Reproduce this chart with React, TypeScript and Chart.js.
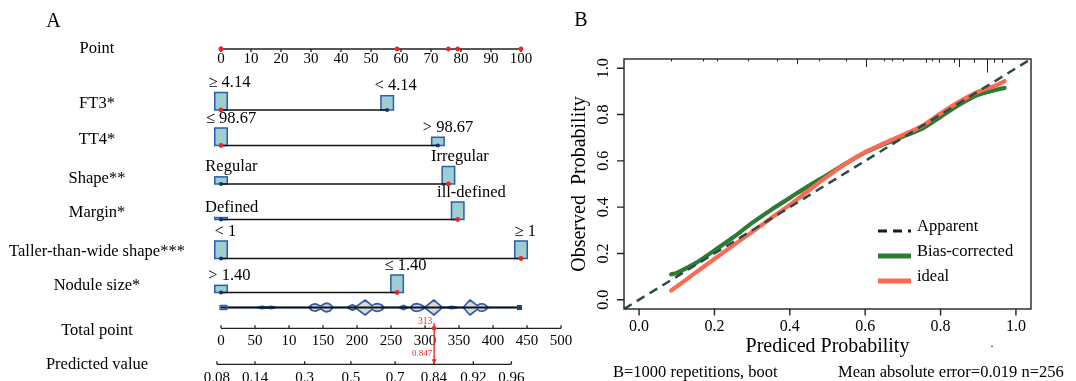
import React, { useEffect, useRef } from "react";
import { Chart, registerables } from "chart.js";

Chart.register(...registerables);

const SERIF = '"Liberation Serif", "Times New Roman", serif';

// ---------------- Panel A (nomogram) data ----------------
const POINT_TICKS = [0, 10, 20, 30, 40, 50, 60, 70, 80, 90, 100];

const PREDICTOR_NAMES = ["FT3*", "TT4*", "Shape**", "Margin*", "Taller-than-wide shape***", "Nodule size*"];

const FT3_LEVELS = ["≥ 4.14", "< 4.14"];
const FT3_POINTS = [0, 55.4];
const FT3_SHARE = [0.55, 0.45];

const TT4_LEVELS = ["≤ 98.67", "> 98.67"];
const TT4_POINTS = [0, 72.3];
const TT4_SHARE = [0.68, 0.32];

const SHAPE_LEVELS = ["Regular", "Irregular"];
const SHAPE_POINTS = [0, 75.8];
const SHAPE_SHARE = [0.29, 0.71];

const MARGIN_LEVELS = ["Defined", "ill-defined"];
const MARGIN_POINTS = [0, 78.9];
const MARGIN_SHARE = [0.1, 0.9];

const TALLER_LEVELS = ["< 1", "≥ 1"];
const TALLER_POINTS = [0, 100];
const TALLER_SHARE = [0.5, 0.5];

const SIZE_LEVELS = ["> 1.40", "≤ 1.40"];
const SIZE_POINTS = [0, 58.7];
const SIZE_SHARE = [0.29, 0.71];

// level of the highlighted patient for each predictor
const SUBJECT_LEVEL = [0, 0, 1, 1, 1, 1];

const TOTAL_TICKS = [0, 50, 100, 150, 200, 250, 300, 350, 400, 450, 500];
const TOTAL_TICK_LABELS = ["0", "50", "10", "150", "200", "250", "300", "350", "400", "450", "500"];

const PRED_TICK_LABELS = ["0.08", "0.14", "0.3", "0.5", "0.7", "0.84", "0.92", "0.96"];
const PRED_TICK_TOTALS = [-6, 50, 123, 191, 256, 313, 371, 427];
const SUBJECT_PRED = "0.847";

// distribution of total points (violin)
const VIOLIN_TOTALS = [0, 52, 60, 67, 74, 82, 129, 134, 139, 144, 147, 151, 155, 160, 165, 185, 193, 199, 212, 222, 226, 230, 235, 240, 262, 268, 275, 278, 283, 288, 293, 300, 313, 325, 331, 339, 350, 356, 366, 377, 380, 384, 388, 393, 441];
const VIOLIN_DENSITY = [0, 0, 0.15, 0.06, 0.15, 0, 0, 0.4, 0.48, 0.3, 0.2, 0.45, 0.58, 0.45, 0, 0, 0.35, 0.15, 1, 0.25, 0.45, 0.52, 0.4, 0, 0, 0.28, 0, 0, 0.42, 0.52, 0.4, 0.06, 1, 0.06, 0, 0.15, 0, 0, 1, 0.25, 0.45, 0.5, 0.38, 0, 0];

// ---------------- Panel B (calibration) data ----------------
const CAL_TICKS = [0, 0.2, 0.4, 0.6, 0.8, 1.0];
const APPARENT_X = [-0.04, 1.04];
const APPARENT_Y = [-0.04, 1.04];
const CURVE_X = [0.085, 0.1, 0.15, 0.2, 0.25, 0.3, 0.35, 0.4, 0.45, 0.5, 0.55, 0.6, 0.65, 0.7, 0.75, 0.8, 0.85, 0.9, 0.95, 0.97];
const BIAS_Y = [0.11, 0.116, 0.158, 0.213, 0.27, 0.332, 0.388, 0.44, 0.492, 0.54, 0.59, 0.637, 0.672, 0.705, 0.738, 0.79, 0.843, 0.885, 0.908, 0.915];
const IDEAL_Y = [0.04, 0.057, 0.117, 0.176, 0.235, 0.293, 0.352, 0.41, 0.472, 0.533, 0.59, 0.638, 0.676, 0.712, 0.75, 0.805, 0.856, 0.899, 0.928, 0.944];
const RUG_P = [0.084, 0.169, 0.206, 0.29, 0.365, 0.42, 0.478, 0.55, 0.603, 0.651, 0.672, 0.7, 0.762, 0.778, 0.797, 0.836, 0.85, 0.889, 0.924, 0.942, 0.963];
const RUG_N = [1, 1, 1, 1, 1, 3, 1, 1, 5, 1, 1, 1, 2, 1, 2, 2, 5, 2, 9, 2, 2];
const LEGEND_LABELS = ["Apparent", "Bias-corrected", "ideal"];
const FOOTER_LEFT = "B=1000 repetitions, boot";
const FOOTER_RIGHT = "Mean absolute error=0.019 n=256";

// ---------------- derived ----------------
const PREDICTOR_POINTS = [FT3_POINTS, TT4_POINTS, SHAPE_POINTS, MARGIN_POINTS, TALLER_POINTS, SIZE_POINTS];
const PREDICTOR_LEVELS = [FT3_LEVELS, TT4_LEVELS, SHAPE_LEVELS, MARGIN_LEVELS, TALLER_LEVELS, SIZE_LEVELS];
const PREDICTOR_SHARE = [FT3_SHARE, TT4_SHARE, SHAPE_SHARE, MARGIN_SHARE, TALLER_SHARE, SIZE_SHARE];
const TOTAL_AT_100 = PREDICTOR_POINTS.reduce((s, p) => s + Math.max(...p), 0);
const totalToPoints = (t: number) => (t * 100) / TOTAL_AT_100;
const SUBJECT_TOTAL = PREDICTOR_POINTS.reduce((s, p, i) => s + p[SUBJECT_LEVEL[i]], 0);

// ---------------- layout (pixels / scale units) ----------------
const POINT_AXIS_Y = 49;
const ROW_LINE_Y = [110, 145.5, 184, 219.5, 258.5, 292.5];
const ROW_NAME_Y = [104, 139.5, 178.5, 213, 252, 286];
const VIOLIN_Y = 307.5;
const TOTAL_AXIS_Y = 328.3;
const PRED_AXIS_Y = 364.3;
const NAME_X = 97;
const BOX_W = 12.5;
const BOX_H = 17.5;
const VIOLIN_H = 7.5;

function txt(ctx: CanvasRenderingContext2D, s: string, x: number, y: number, size: number, align: CanvasTextAlign = "center", baseline: CanvasTextBaseline = "middle", color = "#000", rot = 0) {
  ctx.save();
  ctx.font = `${size}px ${SERIF}`;
  ctx.fillStyle = color;
  ctx.textAlign = align;
  ctx.textBaseline = baseline;
  ctx.translate(x, y);
  if (rot) ctx.rotate(rot);
  ctx.fillText(s, 0, 0);
  ctx.restore();
}

const nomogramPlugin = {
  id: "nomogram",
  beforeDatasetsDraw(chart: any) {
    const ctx: CanvasRenderingContext2D = chart.ctx;
    const xs = chart.scales.x;
    const ys = chart.scales.y;
    const px = (p: number) => xs.getPixelForValue(p);
    const py = (v: number) => ys.getPixelForValue(v);
    ctx.save();
    txt(ctx, "A", 53.5, 21.5, 20);

    // row names
    txt(ctx, "Point", NAME_X, py(POINT_AXIS_Y), 16.5);
    PREDICTOR_NAMES.forEach((n, i) => txt(ctx, n, NAME_X, py(ROW_NAME_Y[i]), 16.5));
    txt(ctx, "Total point", NAME_X, py(331), 16.5);
    txt(ctx, "Predicted value", NAME_X, py(365), 16.5);

    ctx.strokeStyle = "#222";
    ctx.lineWidth = 1.3;
    // Point axis
    const ya = py(POINT_AXIS_Y);
    ctx.beginPath();
    ctx.moveTo(px(0), ya);
    ctx.lineTo(px(100), ya);
    POINT_TICKS.forEach((t) => {
      ctx.moveTo(px(t), ya);
      ctx.lineTo(px(t), ya + 3);
    });
    ctx.stroke();
    POINT_TICKS.forEach((t) => txt(ctx, String(t), px(t), ya + 10.5, 15));

    // boxes + level labels
    PREDICTOR_POINTS.forEach((pts, i) => {
      const yl = py(ROW_LINE_Y[i]);
      const maxShare = Math.max(...PREDICTOR_SHARE[i]);
      pts.forEach((p, j) => {
        const h = (BOX_H * PREDICTOR_SHARE[i][j]) / maxShare;
        const cx = px(p);
        ctx.fillStyle = "#9ecfd0";
        ctx.strokeStyle = "#2a5db0";
        ctx.lineWidth = 1.5;
        ctx.fillRect(cx - BOX_W / 2, yl - h, BOX_W, h);
        ctx.strokeRect(cx - BOX_W / 2, yl - h, BOX_W, h);
        ctx.font = `16.5px ${SERIF}`;
        const w = ctx.measureText(PREDICTOR_LEVELS[i][j]).width;
        txt(ctx, PREDICTOR_LEVELS[i][j], cx + 0.2 * w, yl - h - 1.5, 16.5, "center", "bottom");
      });
    });

    // violin of total points
    const yv = py(VIOLIN_Y);
    ctx.beginPath();
    VIOLIN_TOTALS.forEach((t, k) => {
      const x = px(totalToPoints(t));
      const y = yv - VIOLIN_DENSITY[k] * VIOLIN_H;
      if (k === 0) ctx.moveTo(x, y);
      else ctx.lineTo(x, y);
    });
    for (let k = VIOLIN_TOTALS.length - 1; k >= 0; k--) {
      ctx.lineTo(px(totalToPoints(VIOLIN_TOTALS[k])), yv + VIOLIN_DENSITY[k] * VIOLIN_H);
    }
    ctx.closePath();
    ctx.fillStyle = "#dadada";
    ctx.fill();
    ctx.strokeStyle = "#2d5fae";
    ctx.lineWidth = 1.7;
    ctx.lineJoin = "round";
    ctx.stroke();
    const v0 = px(totalToPoints(VIOLIN_TOTALS[0]));
    const v1 = px(totalToPoints(VIOLIN_TOTALS[VIOLIN_TOTALS.length - 1]));
    ctx.strokeStyle = "#111";
    ctx.lineWidth = 2;
    ctx.beginPath();
    ctx.moveTo(v0, yv);
    ctx.lineTo(v1, yv);
    ctx.stroke();
    ctx.strokeStyle = "#2d5fae";
    ctx.lineWidth = 1.3;
    ctx.strokeRect(v0 - 1, yv - 2, 7, 4);
    ctx.fillStyle = "#1d3d7a";
    ctx.fillRect(v1 - 4, yv - 2.5, 5, 5);

    // Total point axis
    ctx.strokeStyle = "#222";
    ctx.lineWidth = 1.3;
    const yt = py(TOTAL_AXIS_Y);
    ctx.beginPath();
    ctx.moveTo(px(totalToPoints(TOTAL_TICKS[0])), yt);
    ctx.lineTo(px(totalToPoints(TOTAL_TICKS[TOTAL_TICKS.length - 1])), yt);
    TOTAL_TICKS.forEach((t) => {
      ctx.moveTo(px(totalToPoints(t)), yt);
      ctx.lineTo(px(totalToPoints(t)), yt - 3);
    });
    ctx.stroke();
    TOTAL_TICKS.forEach((t, k) => txt(ctx, TOTAL_TICK_LABELS[k], px(totalToPoints(t)), yt + 12.5, 15));

    // Predicted value axis
    const yp = py(PRED_AXIS_Y);
    ctx.beginPath();
    ctx.moveTo(px(totalToPoints(PRED_TICK_TOTALS[0])), yp);
    ctx.lineTo(px(totalToPoints(PRED_TICK_TOTALS[PRED_TICK_TOTALS.length - 1])), yp);
    PRED_TICK_TOTALS.forEach((t) => {
      ctx.moveTo(px(totalToPoints(t)), yp);
      ctx.lineTo(px(totalToPoints(t)), yp - 3);
    });
    ctx.stroke();
    PRED_TICK_TOTALS.forEach((t, k) => txt(ctx, PRED_TICK_LABELS[k], px(totalToPoints(t)), yp + 6.5, 15, "center", "top"));
    ctx.restore();
  },
  afterDatasetsDraw(chart: any) {
    const ctx: CanvasRenderingContext2D = chart.ctx;
    const xs = chart.scales.x;
    const ys = chart.scales.y;
    const x = xs.getPixelForValue(totalToPoints(SUBJECT_TOTAL));
    const yt = ys.getPixelForValue(TOTAL_AXIS_Y);
    const yp = ys.getPixelForValue(PRED_AXIS_Y);
    ctx.save();
    ctx.strokeStyle = "#f0282d";
    ctx.fillStyle = "#f0282d";
    ctx.lineWidth = 1.4;
    ctx.beginPath();
    ctx.moveTo(x, yt - 5);
    ctx.lineTo(x, yp - 1);
    ctx.stroke();
    ctx.beginPath();
    ctx.arc(x, yt, 2.3, 0, Math.PI * 2);
    ctx.fill();
    ctx.beginPath();
    ctx.moveTo(x - 2.5, yp - 5);
    ctx.lineTo(x + 2.5, yp - 5);
    ctx.lineTo(x, yp);
    ctx.closePath();
    ctx.fill();
    txt(ctx, String(Math.round(SUBJECT_TOTAL)), x - 2, yt - 7, 9.5, "right", "middle", "#f0282d");
    txt(ctx, SUBJECT_PRED, x - 2, yp - 10.5, 9, "right", "middle", "#f0282d");
    ctx.restore();
  },
};

function leftConfig(): any {
  const rowLines = PREDICTOR_POINTS.map((pts, i) => ({
    data: [
      { x: Math.min(...pts), y: ROW_LINE_Y[i] },
      { x: Math.max(...pts), y: ROW_LINE_Y[i] },
    ],
    showLine: true,
    borderColor: "#111",
    borderWidth: 1.3,
    pointRadius: 0,
    clip: false,
  }));
  const redDots = [
    ...PREDICTOR_POINTS.map((pts, i) => ({ x: pts[SUBJECT_LEVEL[i]], y: ROW_LINE_Y[i] })),
    ...PREDICTOR_POINTS.map((pts, i) => ({ x: pts[SUBJECT_LEVEL[i]], y: POINT_AXIS_Y })),
  ];
  const darkDots: any[] = [];
  PREDICTOR_POINTS.forEach((pts, i) =>
    pts.forEach((p, j) => {
      if (j !== SUBJECT_LEVEL[i]) darkDots.push({ x: p, y: ROW_LINE_Y[i] });
    })
  );
  return {
    type: "scatter",
    data: {
      datasets: [
        { data: redDots, pointRadius: 2.4, pointBackgroundColor: "#ee2229", pointBorderWidth: 0, clip: false },
        { data: darkDots, pointRadius: 2, pointBackgroundColor: "#1b2f6b", pointBorderWidth: 0, clip: false },
        ...rowLines,
      ],
    },
    options: {
      responsive: false,
      animation: false,
      events: [],
      layout: { autoPadding: false, padding: { left: 221, right: 69, top: 0, bottom: 0 } },
      scales: {
        x: { type: "linear", min: 0, max: 100, display: false },
        y: { type: "linear", min: 0, max: 381, reverse: true, display: false },
      },
      plugins: { legend: { display: false }, tooltip: { enabled: false } },
    },
    plugins: [nomogramPlugin],
  };
}

const calibPlugin = {
  id: "calib",
  beforeDatasetsDraw(chart: any) {
    const ctx: CanvasRenderingContext2D = chart.ctx;
    const a = chart.chartArea;
    const xs = chart.scales.x;
    ctx.save();
    ctx.strokeStyle = "#222";
    ctx.lineWidth = 1;
    ctx.beginPath();
    RUG_P.forEach((p, k) => {
      const x = Math.round(xs.getPixelForValue(p)) + 0.5;
      ctx.moveTo(x, a.top);
      ctx.lineTo(x, a.top + 1 + 1.4 * RUG_N[k]);
    });
    ctx.stroke();
    ctx.restore();
  },
  afterDraw(chart: any) {
    const ctx: CanvasRenderingContext2D = chart.ctx;
    const a = chart.chartArea;
    const xs = chart.scales.x;
    const ys = chart.scales.y;
    ctx.save();
    ctx.strokeStyle = "#222";
    ctx.lineWidth = 1.4;
    ctx.strokeRect(a.left, a.top, a.right - a.left, a.bottom - a.top);
    ctx.beginPath();
    CAL_TICKS.forEach((t) => {
      const x = xs.getPixelForValue(t);
      ctx.moveTo(x, a.bottom);
      ctx.lineTo(x, a.bottom + 6.5);
      const y = ys.getPixelForValue(t);
      ctx.moveTo(a.left, y);
      ctx.lineTo(a.left - 7, y);
    });
    ctx.stroke();
    CAL_TICKS.forEach((t) => {
      txt(ctx, t.toFixed(1), xs.getPixelForValue(t), a.bottom + 18, 16);
      txt(ctx, t.toFixed(1), a.left - 20, ys.getPixelForValue(t), 16, "center", "middle", "#000", -Math.PI / 2);
    });
    txt(ctx, "Prediced Probability", (a.left + a.right) / 2, a.bottom + 38, 20);
    txt(ctx, "Observed  Probability", a.left - 44.5, (a.top + a.bottom) / 2, 20, "center", "middle", "#000", -Math.PI / 2);
    txt(ctx, "B", 21, 21, 20);
    txt(ctx, FOOTER_LEFT, 53, 372.5, 16.5, "left");
    txt(ctx, FOOTER_RIGHT, 278, 372.5, 16.5, "left");
    txt(ctx, ".", 432, 344, 12);

    // legend
    const styles = [
      { c: "#1a1a1a", w: 3, d: [9, 6] },
      { c: "#2e7a35", w: 5, d: [] as number[] },
      { c: "#fb6a52", w: 5, d: [] as number[] },
    ];
    LEGEND_LABELS.forEach((lab, k) => {
      const yTxt = a.top + 167.5 + k * 25;
      ctx.save();
      ctx.strokeStyle = styles[k].c;
      ctx.lineWidth = styles[k].w;
      ctx.setLineDash(styles[k].d);
      ctx.lineCap = "butt";
      ctx.beginPath();
      ctx.moveTo(a.left + 254, yTxt + 4.5);
      ctx.lineTo(a.left + 287, yTxt + 4.5);
      ctx.stroke();
      ctx.restore();
      txt(ctx, lab, a.left + 293, yTxt, 16.5, "left");
    });
    ctx.restore();
  },
};

function rightConfig(): any {
  const pts = (xsArr: number[], ysArr: number[]) => xsArr.map((x, i) => ({ x, y: ysArr[i] }));
  return {
    type: "scatter",
    data: {
      datasets: [
        { label: "Apparent", data: pts(APPARENT_X, APPARENT_Y), showLine: true, borderColor: "#2c4a4a", borderWidth: 2.5, borderDash: [9, 6], pointRadius: 0 },
        { label: "ideal", data: pts(CURVE_X, IDEAL_Y), showLine: true, borderColor: "#fb6a52", borderWidth: 4.2, borderCapStyle: "round", pointRadius: 0, tension: 0.3, clip: false },
        { label: "Bias-corrected", data: pts(CURVE_X, BIAS_Y), showLine: true, borderColor: "#2e7a35", borderWidth: 4.2, borderCapStyle: "round", pointRadius: 0, tension: 0.3, clip: false },
      ],
    },
    options: {
      responsive: false,
      animation: false,
      events: [],
      layout: { autoPadding: false, padding: { left: 64, right: 45, top: 59, bottom: 72 } },
      scales: {
        x: { type: "linear", min: -0.04, max: 1.04, display: false },
        y: { type: "linear", min: -0.04, max: 1.04, display: false },
      },
      plugins: { legend: { display: false }, tooltip: { enabled: false } },
    },
    plugins: [calibPlugin],
  };
}

export default function App() {
  const leftRef = useRef<HTMLCanvasElement>(null);
  const rightRef = useRef<HTMLCanvasElement>(null);
  useEffect(() => {
    const left = new Chart(leftRef.current as HTMLCanvasElement, leftConfig());
    const right = new Chart(rightRef.current as HTMLCanvasElement, rightConfig());
    return () => {
      left.destroy();
      right.destroy();
    };
  }, []);
  return (
    <div style={{ position: "absolute", left: 0, top: 0, width: 1076, height: 381, background: "#fff", overflow: "hidden" }}>
      <canvas ref={leftRef} width={590} height={381} style={{ position: "absolute", left: 0, top: 0, width: 590, height: 381 }} />
      <canvas ref={rightRef} width={516} height={381} style={{ position: "absolute", left: 560, top: 0, width: 516, height: 381 }} />
    </div>
  );
}
